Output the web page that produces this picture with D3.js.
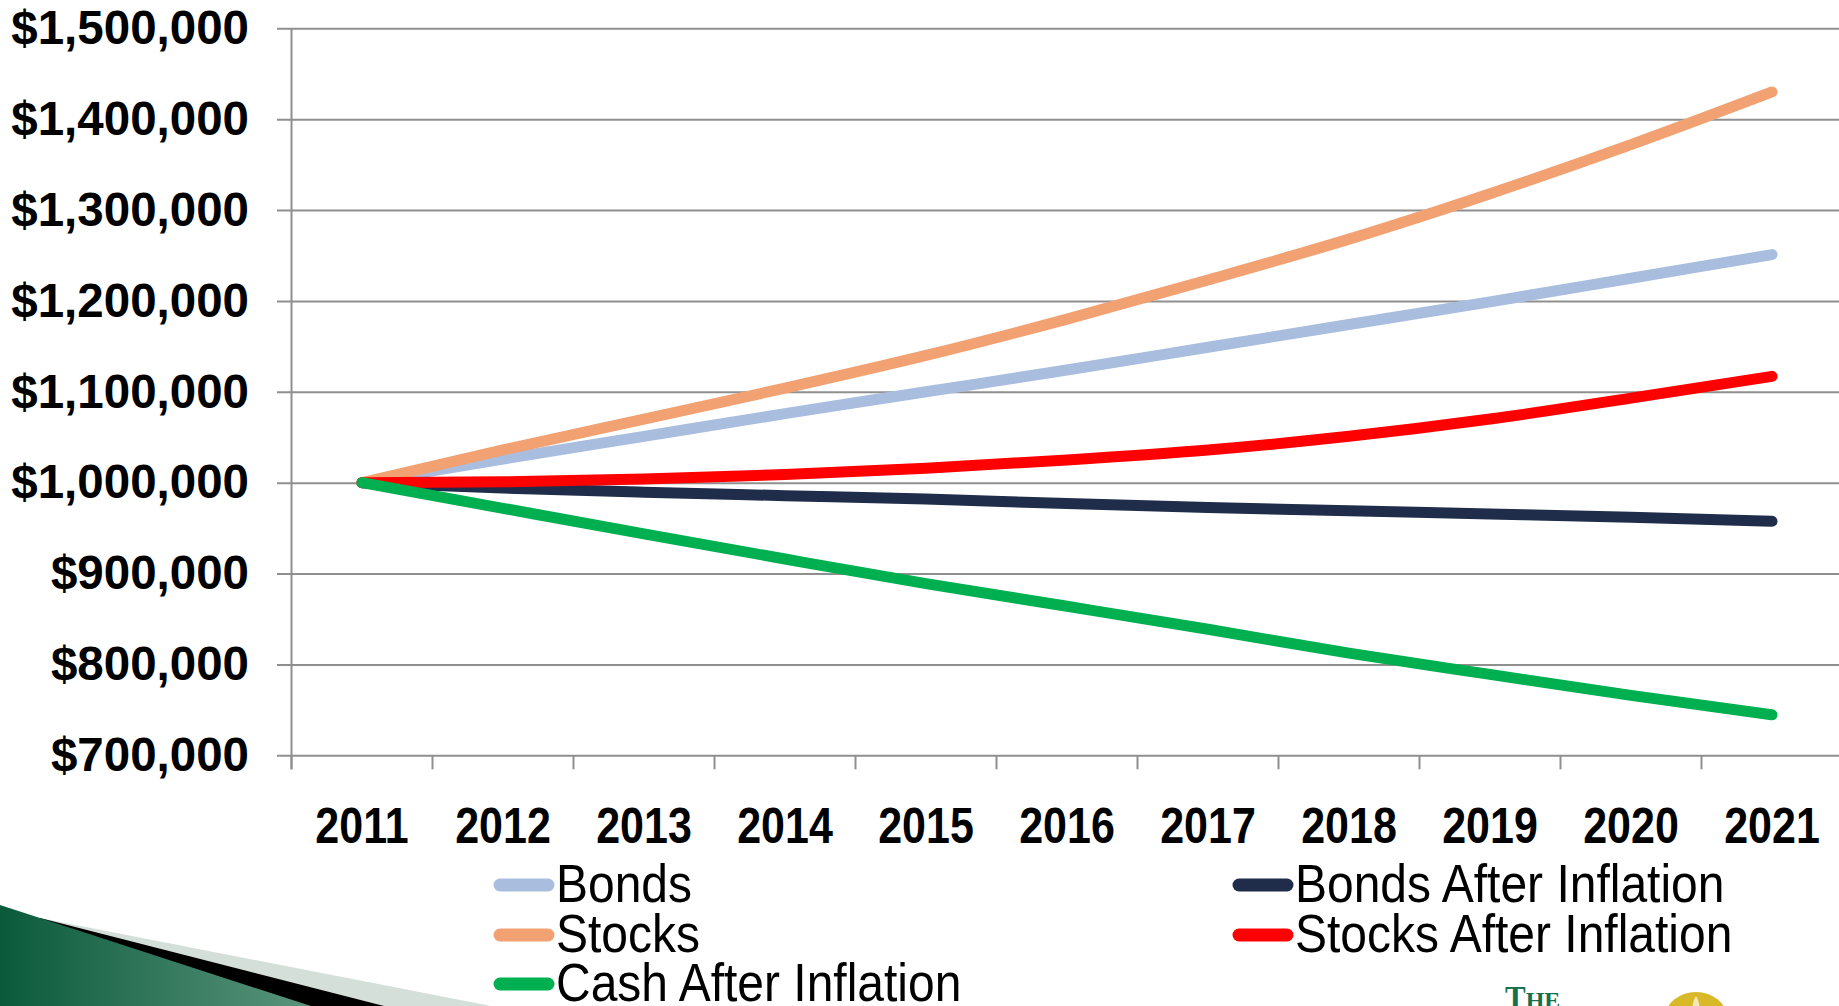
<!DOCTYPE html>
<html>
<head>
<meta charset="utf-8">
<script src="https://cdn.jsdelivr.net/npm/d3@7"></script>
<style>
  html, body { margin: 0; padding: 0; background: #fff; overflow: hidden; }
  svg { display: block; font-family: "Liberation Sans", Arial, sans-serif; }
</style>
</head>
<body>
<div id="chart"></div>
<script>
// values
var years = ["2011", "2012", "2013", "2014", "2015", "2016", "2017", "2018", "2019", "2020", "2021"];
var bonds = [1000000, 1026000, 1051000, 1076000, 1100000, 1124000, 1149000, 1174000, 1199000, 1225000, 1251000];
var bondsAfterInflation = [1000000, 994000, 989500, 985700, 981900, 977000, 972800, 969000, 965600, 962000, 957500];
var stocks = [1000000, 1036000, 1070000, 1104000, 1140000, 1180000, 1223000, 1268000, 1318000, 1372000, 1430000];
var stocksAfterInflation = [1000000, 1001000, 1004000, 1009000, 1016000, 1025000, 1036000, 1051000, 1070000, 1093000, 1117000];
var cashAfterInflation = [1000000, 971800, 943700, 916000, 889000, 864000, 838700, 812400, 789000, 766000, 744600];
var yTicks = [700000, 800000, 900000, 1000000, 1100000, 1200000, 1300000, 1400000, 1500000];

var seriesNames = ["Bonds", "Bonds After Inflation", "Stocks", "Stocks After Inflation", "Cash After Inflation"];
var seriesValues = [bonds, bondsAfterInflation, stocks, stocksAfterInflation, cashAfterInflation];
var seriesColors = ["#a9bddf", "#1f2d4b", "#f2a272", "#ff0000", "#00b050"];

var W = 1839, H = 1006;
var plotLeft = 291.5, plotTop = 28.3, plotBottom = 755.3, band = 141;

var svg = d3.select("#chart").append("svg")
    .attr("width", W)
    .attr("height", H);

// slide decoration, bottom left
var defs = svg.append("defs");
var grad = defs.append("linearGradient")
    .attr("id", "greenGrad")
    .attr("x1", "0").attr("y1", "0").attr("x2", "1").attr("y2", "0");
grad.append("stop").attr("offset", "0%").attr("stop-color", "#0b5a3c");
grad.append("stop").attr("offset", "100%").attr("stop-color", "#5a957c");

var deco = svg.append("g");
deco.append("path").attr("d", "M40,918 L491,1006 L0,1006 Z").attr("fill", "#d5dfda");
deco.append("path").attr("d", "M40,918 L384,1006 L0,1006 Z").attr("fill", "#000");
deco.append("path").attr("d", "M0,905 L311,1006 L0,1006 Z").attr("fill", "url(#greenGrad)");

var x = d3.scaleBand()
    .domain(years)
    .range([plotLeft, plotLeft + band * years.length]);

var y = d3.scaleLinear()
    .domain([700000, 1500000])
    .range([plotBottom, plotTop]);

// gridlines + y labels
var yAxis = svg.append("g")
    .attr("transform", "translate(277,0)")
    .call(d3.axisLeft(y)
        .tickValues(yTicks)
        .tickSize(-(W - 277))
        .tickPadding(28)
        .tickFormat(function (d) { return "$" + d3.format(",")(d); }));
yAxis.select(".domain").remove();
yAxis.selectAll(".tick line")
    .attr("stroke", "#8f8f8f")
    .attr("stroke-width", 2);
yAxis.selectAll(".tick text")
    .attr("fill", "#000")
    .style("font-size", "47.5px")
    .style("font-weight", "bold")
    .style("font-family", "'Liberation Sans', Arial, sans-serif");

// vertical axis line
svg.append("line")
    .attr("x1", plotLeft).attr("x2", plotLeft)
    .attr("y1", plotTop).attr("y2", plotBottom + 14)
    .attr("stroke", "#8f8f8f")
    .attr("stroke-width", 2);

// x ticks at band edges
svg.selectAll(".xtick")
    .data(years)
    .enter()
    .append("line")
    .attr("class", "xtick")
    .attr("x1", function (d) { return x(d); })
    .attr("x2", function (d) { return x(d); })
    .attr("y1", plotBottom)
    .attr("y2", plotBottom + 14)
    .attr("stroke", "#8f8f8f")
    .attr("stroke-width", 2);

// x labels (a bit stretched tall in the original)
svg.selectAll(".xlabel")
    .data(years)
    .enter()
    .append("g")
    .attr("class", "xlabel")
    .attr("transform", function (d) { return "translate(" + (x(d) + x.bandwidth() / 2) + ",843) scale(1,1.14)"; })
    .append("text")
    .attr("text-anchor", "middle")
    .style("font-size", "43px")
    .style("font-weight", "bold")
    .attr("fill", "#000")
    .text(function (d) { return d; });

// lines
var line = d3.line()
    .x(function (d, i) { return x(years[i]) + x.bandwidth() / 2; })
    .y(function (d) { return y(d); })
    .curve(d3.curveMonotoneX);

svg.selectAll(".series")
    .data(seriesValues)
    .enter()
    .append("path")
    .attr("class", "series")
    .attr("d", line)
    .attr("fill", "none")
    .attr("stroke", function (d, i) { return seriesColors[i]; })
    .attr("stroke-width", 11)
    .attr("stroke-linecap", "round")
    .attr("stroke-linejoin", "round");

// legend: two columns, reading row by row
var legendPos = [
    {x: 495, y: 885}, {x: 1234, y: 885},
    {x: 495, y: 935}, {x: 1234, y: 935},
    {x: 495, y: 984}
];
var legend = svg.selectAll(".legend")
    .data(seriesNames)
    .enter()
    .append("g")
    .attr("class", "legend")
    .attr("transform", function (d, i) { return "translate(" + legendPos[i].x + "," + legendPos[i].y + ")"; });
legend.append("line")
    .attr("x1", 5).attr("x2", 53)
    .attr("y1", 0).attr("y2", 0)
    .attr("stroke", function (d, i) { return seriesColors[i]; })
    .attr("stroke-width", 13)
    .attr("stroke-linecap", "round");
legend.append("g")
    .attr("transform", "translate(61,17) scale(1,1.1)")
    .append("text")
    .style("font-size", "48px")
    .attr("fill", "#000")
    .text(function (d) { return d; });

// logo bits, bottom right
svg.append("text")
    .attr("x", 1505).attr("y", 1008)
    .attr("fill", "#17704c")
    .style("font-family", "'Liberation Serif', 'DejaVu Serif', serif")
    .style("font-size", "31px")
    .style("font-weight", "bold")
    .text("T")
    .append("tspan")
    .style("font-size", "24px")
    .text("HE");

svg.append("ellipse")
    .attr("cx", 1696).attr("cy", 1018)
    .attr("rx", 31).attr("ry", 26)
    .attr("fill", "#d9b92a");
svg.append("path")
    .attr("d", "M1696,996 C1700,1003 1701,1010 1696,1016 C1691,1010 1692,1003 1696,996 Z")
    .attr("fill", "#f3e9b8");
</script>
</body>
</html>
